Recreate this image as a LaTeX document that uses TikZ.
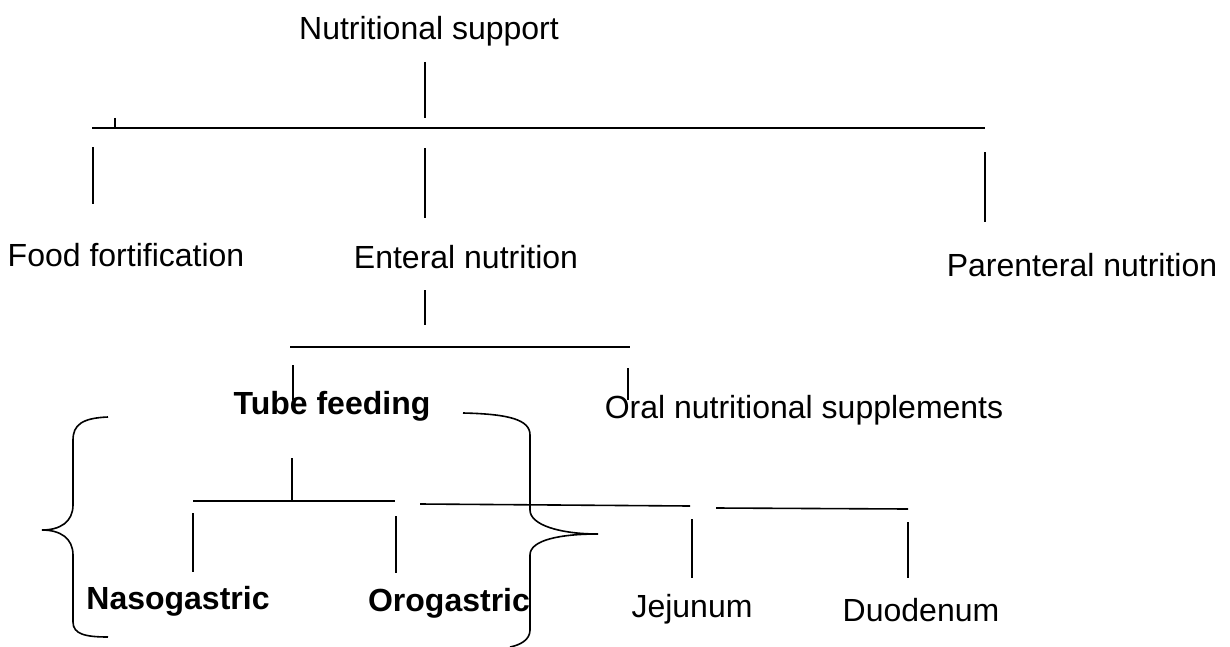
\documentclass[tikz,border=0pt]{standalone}
\usepackage{fontspec}
\setmainfont{Liberation Sans}
\usetikzlibrary{positioning}

\begin{document}
\begin{tikzpicture}[x=0.5pt, y=-0.5pt,
  leaf/.style={anchor=base, inner sep=0pt, font=\fontsize{16}{19}\selectfont},
  boldleaf/.style={leaf, font=\fontsize{16}{19}\selectfont\bfseries},
  branch/.style={line width=0.8pt}]
\useasboundingbox (0,0) rectangle (1230,647);

% Nutritional support
\node[leaf] (support) at (429,40) {Nutritional support};
\draw[branch] (425,62) -- (425,118);
\draw[branch] (92,128) -- (985,128);
\draw[branch] (115,118) -- (115,128);

% Food / Enteral / Parenteral
\draw[branch] (93,147) -- (93,204);
\draw[branch] (425,148) -- (425,218);
\draw[branch] (985,152) -- (985,222);
\node[leaf] (food) at (126,266) {Food fortification};
\node[leaf] (enteral) at (466,268) {Enteral nutrition};
\node[leaf] (parenteral) at (1082,276) {Parenteral nutrition};

% Enteral nutrition
\draw[branch] (425,290) -- (425,325);
\draw[branch] (290,347) -- (630,347);
\draw[branch] (293,365) -- (293,400);
\draw[branch] (628,368) -- (628,400);
\node[boldleaf] (tube) at (332,414) {Tube feeding};
\node[leaf] (oral) at (804,418) {Oral nutritional supplements};

% Tube feeding
\draw[branch] (292,458) -- (292,500);
\draw[branch] (193,501) -- (395,501);
\draw[branch] (420,504) -- (690,506);
\draw[branch] (716,508) -- (908,509);
\draw[branch] (193,513) -- (193,572);
\draw[branch] (396,516) -- (396,573);
\draw[branch] (692,519) -- (692,578);
\draw[branch] (908,522) -- (908,578);
\node[boldleaf] (naso) at (178,609) {Nasogastric};
\node[boldleaf] (oro) at (449,611) {Orogastric};
\node[leaf] (jejunum) at (692,617) {Jejunum};
\node[leaf] (duodenum) at (921,621) {Duodenum};

% braces
\draw[branch] (108,417) .. controls (82,418) and (73,425) .. (73,440) -- (73,505)
  .. controls (73,522) and (60,530) .. (42,530)
  .. controls (60,530) and (73,538) .. (73,555) -- (73,622)
  .. controls (73,634) and (85,637) .. (108,637);
\draw[branch] (463,413) .. controls (510,414) and (530,420) .. (530,435) -- (530,510)
  .. controls (530,525) and (560,534) .. (598,534)
  .. controls (560,534) and (530,540) .. (530,555) -- (530,630)
  .. controls (530,640) and (520,645) .. (510,647);
\end{tikzpicture}
\end{document}
